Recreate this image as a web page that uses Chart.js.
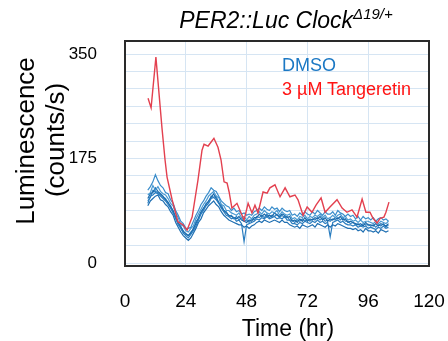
<!DOCTYPE html>
<html>
<head>
<meta charset="utf-8">
<script src="https://cdn.jsdelivr.net/npm/chart.js@4.4.0/dist/chart.umd.min.js"></script>
<style>
    html, body { margin: 0; padding: 0; background: #fff; }
    #wrap { position: relative; width: 448px; height: 341px; font-family: "Liberation Sans", Arial, sans-serif; }
    #chart { position: absolute; left: 0; top: 0; }
    .lbl { position: absolute; white-space: nowrap; color: #000; }
    #title { left: 286px; top: 20px; transform: translate(-50%, -50%); font-size: 23px; font-style: italic; }
    #title sup { font-size: 15px; vertical-align: 9px; line-height: 0; }
    .ytitle { font-size: 26px; transform: translate(-50%, -50%) rotate(-90deg); }
    #xtitle { left: 288px; top: 328px; transform: translate(-50%, -50%); font-size: 23px; }
    .leg { font-size: 18px; left: 282px; transform: translateY(-50%); }
</style>
</head>
<body>
<div id="wrap">
    <canvas id="chart" width="448" height="341"></canvas>
    <div class="lbl" id="title">PER2::Luc Clock<sup>Δ19/+</sup></div>
    <div class="lbl ytitle" style="left:25px; top:141px;">Luminescence</div>
    <div class="lbl ytitle" style="left:55px; top:140px;">(counts/s)</div>
    <div class="lbl" id="xtitle">Time (hr)</div>
    <div class="lbl leg" style="top:65px; color:#1b78c4;">DMSO</div>
    <div class="lbl leg" style="top:89px; color:#ff1414;">3 µM Tangeretin</div>
</div>
<script>
// Axis ticks
const xTicks = [0, 24, 48, 72, 96, 120];
const yTickLabels = [0, 175, 350];

// 3 uM Tangeretin trace (hours, counts/s)
const tangHours = [9.1, 10.3, 12.2, 14.6, 15.8, 16.6, 18.6, 20.9, 22.9, 24.5, 26.5, 28.8, 30.4, 31.2, 32.8, 35.1,
    36.7, 37.9, 39.1, 40.3, 41.1, 42.2, 44.2, 47.0, 48.6, 50.1, 51.3, 52.5, 54.5, 56.1, 57.2, 59.2, 61.2, 63.2,
    65.1, 67.1, 68.3, 70.3, 71.9, 73.8, 75.4, 77.4, 79.0, 80.9, 83.7, 85.7, 87.6, 89.6, 91.6, 93.6, 95.1, 96.7,
    97.9, 99.5, 100.7, 102.2, 103.0, 104.2];
const tangValues = [276, 260, 345, 226, 173, 144, 106, 69, 64, 55, 77, 139, 189, 199, 196, 209,
    194, 173, 136, 134, 119, 92, 100, 72, 100, 84, 97, 84, 119, 117, 126, 131, 111, 126,
    111, 114, 106, 80, 94, 85, 97, 109, 85, 94, 106, 92, 85, 89, 77, 107, 85, 85,
    75, 67, 75, 77, 85, 102];

// DMSO replicate traces, one reading per hour from 9 h to 104 h
const dmsoHours = [9, 10, 11, 12, 13, 14, 15, 16, 17, 18, 19, 20, 21, 22, 23, 24, 25, 26, 27, 28, 29, 30, 31, 32,
    33, 34, 35, 36, 37, 38, 39, 40, 41, 42, 43, 44, 45, 46, 47, 48, 49, 50, 51, 52, 53, 54, 55, 56,
    57, 58, 59, 60, 61, 62, 63, 64, 65, 66, 67, 68, 69, 70, 71, 72, 73, 74, 75, 76, 77, 78, 79, 80,
    81, 82, 83, 84, 85, 86, 87, 88, 89, 90, 91, 92, 93, 94, 95, 96, 97, 98, 99, 100, 101, 102, 103, 104];
const dmso1 = [122, 128, 136, 148, 138, 130, 126, 118, 116, 106, 100, 88, 80, 70, 66, 58,
    58, 60, 70, 80, 88, 98, 104, 112, 118, 126, 122, 120, 112, 104, 100, 96,
    94, 88, 92, 86, 88, 82, 84, 80, 82, 80, 86, 88, 92, 88, 94, 90,
    88, 94, 90, 92, 86, 92, 88, 86, 88, 80, 82, 78, 84, 80, 86, 82,
    80, 86, 82, 88, 84, 80, 86, 82, 82, 86, 80, 88, 84, 82, 78, 82,
    78, 80, 74, 78, 72, 78, 74, 76, 72, 76, 70, 74, 76, 72, 74, 70];
const dmso2 = [96, 104, 108, 112, 114, 106, 104, 98, 94, 86, 80, 68, 60, 52, 46, 42,
    38, 42, 50, 58, 68, 74, 84, 90, 96, 100, 104, 98, 94, 86, 80, 76,
    72, 70, 68, 66, 64, 64, 60, 62, 58, 62, 64, 68, 70, 68, 72, 70,
    68, 70, 72, 70, 68, 72, 68, 68, 64, 62, 60, 62, 58, 64, 62, 60,
    62, 64, 60, 66, 64, 62, 60, 64, 60, 64, 62, 66, 64, 62, 60, 58,
    58, 56, 58, 54, 56, 52, 58, 54, 54, 52, 54, 50, 56, 54, 52, 54];
const dmso3 = [114, 118, 130, 122, 128, 120, 116, 114, 108, 100, 96, 84, 76, 64, 62, 54,
    52, 58, 62, 74, 82, 90, 98, 104, 112, 116, 120, 112, 110, 98, 96, 88,
    88, 84, 82, 80, 84, 76, 78, 72, 78, 74, 80, 82, 86, 82, 88, 84,
    82, 86, 84, 88, 80, 86, 82, 80, 82, 74, 76, 72, 78, 76, 80, 74,
    78, 76, 80, 78, 82, 76, 80, 74, 76, 80, 76, 80, 82, 76, 78, 72,
    74, 70, 72, 68, 72, 68, 70, 70, 68, 66, 70, 66, 70, 68, 66, 70];
const dmso4 = [100, 112, 114, 118, 116, 112, 108, 104, 98, 92, 84, 74, 64, 58, 50, 46,
    42, 48, 54, 62, 72, 82, 88, 96, 100, 108, 110, 106, 100, 92, 86, 80,
    78, 74, 76, 70, 72, 66, 36, 64, 66, 68, 70, 74, 72, 76, 74, 78,
    74, 76, 78, 74, 76, 74, 78, 72, 72, 66, 66, 64, 68, 66, 70, 68,
    66, 70, 68, 72, 68, 70, 66, 68, 44, 68, 70, 72, 68, 70, 66, 64,
    64, 62, 64, 60, 62, 60, 62, 58, 60, 58, 56, 60, 58, 62, 58, 60];
const dmso5 = [108, 116, 118, 126, 120, 116, 112, 106, 102, 94, 88, 76, 68, 60, 54, 48,
    46, 50, 58, 66, 76, 86, 92, 98, 104, 110, 116, 108, 102, 94, 88, 84,
    80, 78, 76, 74, 78, 72, 70, 68, 72, 70, 76, 76, 82, 78, 82, 78,
    80, 78, 84, 80, 78, 82, 80, 76, 78, 70, 72, 68, 74, 70, 76, 70,
    74, 72, 76, 74, 78, 72, 76, 70, 74, 72, 76, 74, 78, 72, 74, 68,
    70, 68, 66, 64, 66, 62, 68, 64, 64, 62, 66, 62, 66, 64, 62, 66];
const dmso6 = [104, 110, 122, 120, 118, 114, 110, 108, 100, 96, 86, 78, 66, 62, 52, 50,
    46, 52, 56, 70, 74, 84, 90, 100, 102, 112, 110, 112, 100, 98, 88, 86,
    78, 80, 74, 78, 72, 76, 70, 72, 68, 74, 72, 78, 76, 80, 76, 82,
    76, 80, 78, 82, 76, 80, 76, 78, 72, 72, 68, 72, 70, 74, 70, 74,
    70, 74, 72, 76, 72, 76, 70, 72, 70, 74, 72, 76, 72, 76, 70, 70,
    66, 68, 64, 66, 62, 66, 64, 64, 62, 64, 60, 64, 62, 66, 60, 64];

const toPoints = (xs, ys) => xs.map((x, i) => ({ x: x, y: ys[i] }));

const blueColors = ['#3a8dcb', '#1f6fb2', '#4a9ad2', '#2a7dbf', '#1b6aab', '#3584c4'];
const dmsoSets = [dmso1, dmso2, dmso3, dmso4, dmso5, dmso6].map((vals, i) => ({
    data: toPoints(dmsoHours, vals),
    borderColor: blueColors[i],
    borderWidth: 1.2,
    pointRadius: 0,
    tension: 0
}));

// draw the dark frame round the plot area
const framePlugin = {
    id: 'frame',
    afterDraw(chart) {
        const a = chart.chartArea;
        const ctx = chart.ctx;
        ctx.save();
        ctx.strokeStyle = '#2a2a2a';
        ctx.lineWidth = 2;
        ctx.strokeRect(a.left, a.top, a.right - a.left, a.bottom - a.top);
        ctx.restore();
    }
};

const ctx = document.getElementById('chart').getContext('2d');
new Chart(ctx, {
    type: 'line',
    data: {
        datasets: [{
            data: toPoints(tangHours, tangValues),
            borderColor: '#e3404f',
            borderWidth: 1.4,
            pointRadius: 0,
            tension: 0
        }].concat(dmsoSets)
    },
    options: {
        responsive: false,
        animation: false,
        layout: { padding: { top: 41, right: 19, left: 0, bottom: 0 } },
        plugins: {
            legend: { display: false },
            tooltip: { enabled: false }
        },
        scales: {
            x: {
                type: 'linear',
                min: 0,
                max: 120,
                afterBuildTicks: s => { s.ticks = xTicks.map(v => ({ value: v })); },
                afterFit: s => { s.height = 75; s.paddingLeft = 0; s.paddingRight = 0; },
                border: { display: false },
                grid: { color: '#d6e5f3', lineWidth: 1, drawTicks: false, tickLength: 0 },
                ticks: {
                    color: '#000',
                    padding: 24,
                    maxRotation: 0,
                    font: { family: 'Liberation Sans', size: 19 }
                }
            },
            y: {
                min: -5,
                max: 372,
                afterBuildTicks: s => {
                    const step = yTickLabels[2] / 12;
                    const t = [];
                    for (let k = 0; k <= 12; k++) t.push({ value: k * step });
                    s.ticks = t;
                },
                afterFit: s => { s.width = 125; s.paddingTop = 0; s.paddingBottom = 0; },
                border: { display: false },
                grid: { color: '#d6e5f3', lineWidth: 1, drawTicks: false, tickLength: 0 },
                ticks: {
                    color: '#000',
                    padding: 28,
                    autoSkip: false,
                    font: { family: 'Liberation Sans', size: 17 },
                    callback: v => {
                        const r = Math.round(v);
                        return yTickLabels.includes(r) ? String(r) : '';
                    }
                }
            }
        }
    },
    plugins: [framePlugin]
});
</script>
</body>
</html>
